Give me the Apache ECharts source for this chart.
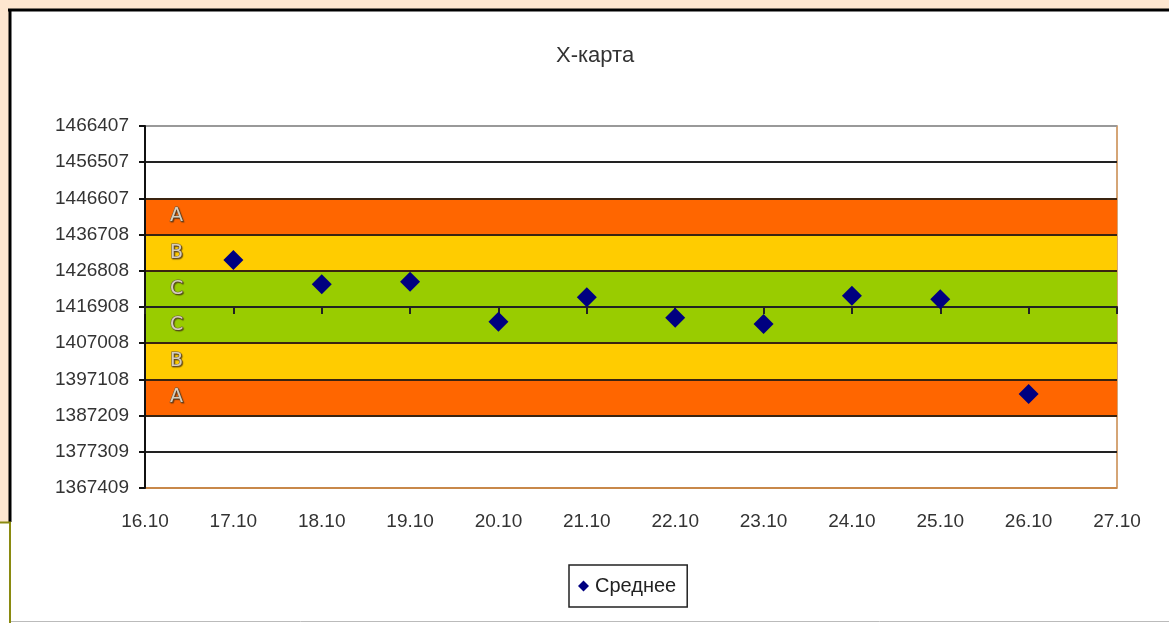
<!DOCTYPE html>
<html>
<head>
<meta charset="utf-8">
<script src="https://cdn.jsdelivr.net/npm/echarts@6/dist/echarts.min.js"></script>
<style>html,body{margin:0;padding:0;background:#fff;}#c{width:1169px;height:623px;}</style>
</head>
<body>
<div id="c"></div>
<script>
const categories = ['16.10','17.10','18.10','19.10','20.10','21.10','22.10','23.10','24.10','25.10','26.10','27.10'];
const means = [null, 1429760, 1423120, 1423830, 1412890, 1419560, 1413980, 1412260, 1420000, 1419010, 1393120, null];
const yTickLabels = ['1367409','1377309','1387209','1397108','1407008','1416908','1426808','1436708','1446607','1456507','1466407'];
const yMin = 1367409, yMax = 1466407, yStep = 9899.8;
const bands = [
  {name:'A', from:1436708, to:1446607, color:'#FF6600'},
  {name:'B', from:1426808, to:1436708, color:'#FFCC00'},
  {name:'C', from:1416908, to:1426808, color:'#99CC00'},
  {name:'C', from:1407008, to:1416908, color:'#99CC00'},
  {name:'B', from:1397108, to:1407008, color:'#FFCC00'},
  {name:'A', from:1387209, to:1397108, color:'#FF6600'}
];
const font = '"Liberation Sans", Arial, sans-serif';
const chart = echarts.init(document.getElementById('c'));
chart.setOption({
  animation:false,
  backgroundColor:'#ffffff',
  graphic:[
    {type:'rect', shape:{x:0,y:0,width:1169,height:9}, style:{fill:'#FDE6CF'}, z:-10},
    {type:'rect', shape:{x:0,y:0,width:9,height:522}, style:{fill:'#FDE6CF'}, z:-10},
    {type:'line', shape:{x1:8,y1:10,x2:1169,y2:10}, style:{stroke:'#000',lineWidth:3}, z:-9},
    {type:'line', shape:{x1:10,y1:9,x2:10,y2:522}, style:{stroke:'#000',lineWidth:3}, z:-9},
    {type:'line', shape:{x1:0,y1:522.5,x2:11,y2:522.5}, style:{stroke:'#8A8A10',lineWidth:2}, z:-9},
    {type:'line', shape:{x1:10,y1:522,x2:10,y2:623}, style:{stroke:'#8A8A10',lineWidth:2}, z:-9},
    {type:'line', shape:{x1:11,y1:621.5,x2:1169,y2:621.5}, style:{stroke:'#bbbbbb',lineWidth:1}, z:-9}
  ],
  title:{text:'X-карта', left:551, top:40, textStyle:{fontFamily:font, fontSize:22, fontWeight:'normal', color:'#333'}},
  legend:{
    data:['Среднее'], left:569, top:565, orient:'horizontal',
    borderColor:'#222', borderWidth:1.5, padding:[11,11,11,9],
    icon:'diamond', itemWidth:11, itemHeight:11, itemGap:4,
    textStyle:{fontFamily:font, fontSize:20, color:'#222', padding:[0,0,0,1]}
  },
  grid:{left:145, right:52, top:126, bottom:135, show:true, borderColor:'#C8884A', borderWidth:1.5, backgroundColor:'transparent'},
  xAxis:[
    {type:'category', data:categories, boundaryGap:false, position:'bottom',
     axisLine:{show:false}, axisTick:{show:false},
     axisLabel:{fontFamily:font, fontSize:19, color:'#333', margin:24, showMinLabel:true, showMaxLabel:true, interval:0},
     splitLine:{show:false}},
    {type:'category', data:categories, boundaryGap:false, position:'bottom', offset:-181,
     axisLine:{show:true, lineStyle:{color:'#222', width:2}},
     axisTick:{show:true, length:7, lineStyle:{color:'#222', width:2}, alignWithLabel:true, interval:0},
     axisLabel:{show:false}, splitLine:{show:false}, z:4}
  ],
  yAxis:{
    type:'value', min:yMin, max:yMax, interval:yStep, z:4,
    axisLine:{show:true, lineStyle:{color:'#111', width:2}},
    axisTick:{show:true, length:6, lineStyle:{color:'#111', width:2}},
    axisLabel:{fontFamily:font, fontSize:19, color:'#333', margin:16,
      formatter:function(v){ return yTickLabels[Math.round((v - yMin)/yStep)] || ''; }},
    splitLine:{show:true, lineStyle:{width:2, color:['#C8884A','#222','#3a2410','#3a2410','#3a2410','#222','#3a2410','#3a2410','#3a2410','#222','#999999']}}
  },
  series:[
    {
      name:'bands', type:'line', data:[], xAxisIndex:0, z:1, silent:true,
      markArea:{silent:true,
        label:{position:'insideLeft', distance:25, fontFamily:'"DejaVu Sans", sans-serif', fontSize:19, color:'#d6cdbd',
               textBorderColor:'#6a5a45', textBorderWidth:1, textShadowColor:'rgba(60,40,20,0.6)', textShadowBlur:1, textShadowOffsetX:1, textShadowOffsetY:1},
        data: bands.map(b => [
          {name:b.name, yAxis:b.from, itemStyle:{color:b.color, opacity:1}},
          {yAxis:b.to}
        ])
      }
    },
    {
      name:'Среднее', type:'scatter', data:means, xAxisIndex:0, z:6,
      symbol:'diamond', symbolSize:20,
      itemStyle:{color:'#000080', opacity:1}
    }
  ]
});
</script>
</body>
</html>
